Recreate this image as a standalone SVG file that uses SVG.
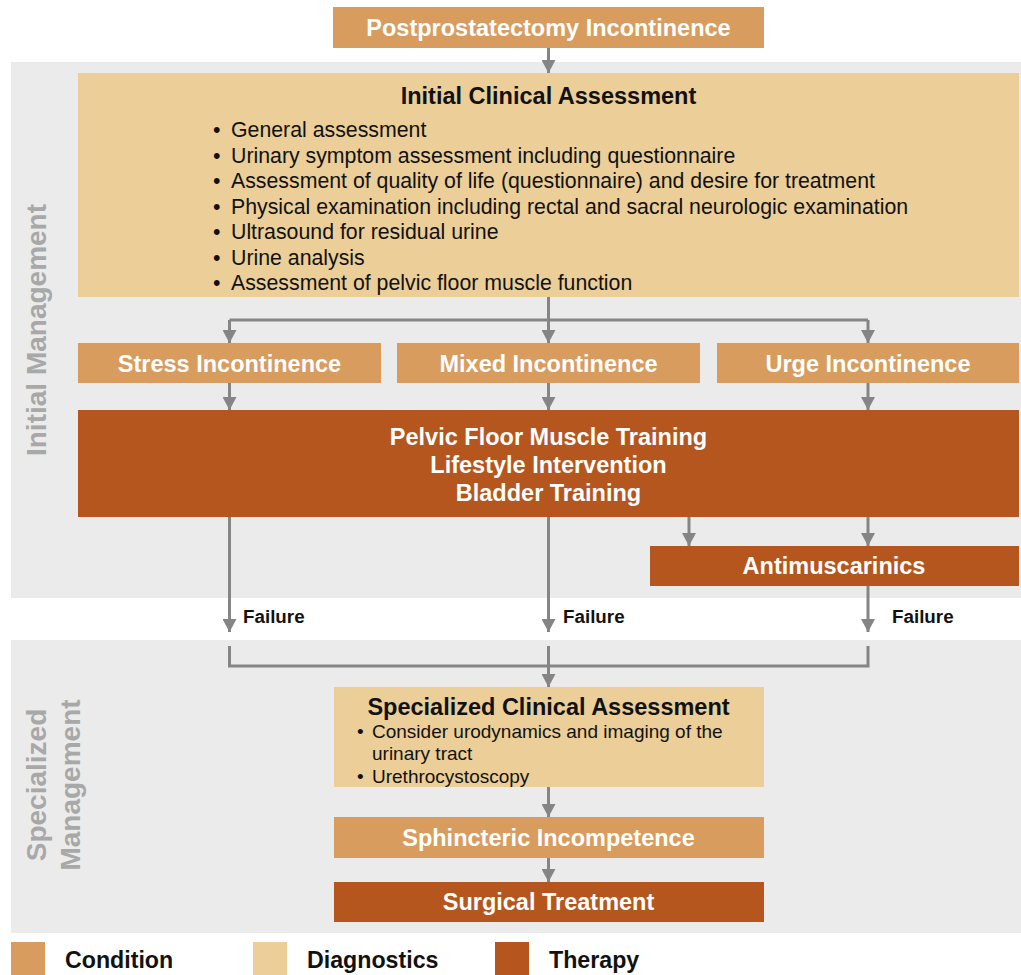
<svg xmlns="http://www.w3.org/2000/svg" width="1021" height="975" viewBox="0 0 1021 975">
<defs>
<marker id="ah" markerUnits="userSpaceOnUse" markerWidth="14" markerHeight="14" refX="13" refY="7" orient="auto">
<path d="M0,0 L13,7 L0,14 Z" fill="#858585"/>
</marker>
<style>
text{font-family:"Liberation Sans",Arial,sans-serif}
.cond{fill:#d89c5e}
.diag{fill:#ecce98}
.ther{fill:#b5561e}
.band{fill:#ebebeb}
.wt{fill:#fff;font-weight:bold;font-size:23.5px;text-anchor:middle}
.bt{fill:#111;font-weight:bold;font-size:23.5px;text-anchor:middle}
.li{fill:#111;font-size:21.3px}
.ls{fill:#111;font-size:19px}
.fl{fill:#111;font-weight:bold;font-size:18.8px}
.lg{fill:#111;font-weight:bold;font-size:23.2px}
.vl{fill:#a8a8a8;font-weight:bold;font-size:28px;text-anchor:middle}
.c{fill:none;stroke:#858585;stroke-width:3}
</style>
</defs>
<g id="bands">
<rect class="band" x="11" y="62" width="1010" height="536"/>
<rect class="band" x="11" y="640" width="1010" height="293"/>
<text class="vl" transform="translate(46,330) rotate(-90)">Initial Management</text>
<text class="vl" transform="translate(46,785) rotate(-90)">Specialized</text>
<text class="vl" transform="translate(80,785) rotate(-90)">Management</text>
</g>
<g id="connectors">
<line class="c" x1="548.5" y1="48" x2="548.5" y2="73" marker-end="url(#ah)"/>
<path class="c" d="M548.5,297 V320 M229.5,320 H868"/>
<line class="c" x1="229.5" y1="320" x2="229.5" y2="343" marker-end="url(#ah)"/>
<line class="c" x1="548.5" y1="320" x2="548.5" y2="343" marker-end="url(#ah)"/>
<line class="c" x1="868" y1="320" x2="868" y2="343" marker-end="url(#ah)"/>
<line class="c" x1="229.5" y1="383" x2="229.5" y2="410" marker-end="url(#ah)"/>
<line class="c" x1="548.5" y1="383" x2="548.5" y2="410" marker-end="url(#ah)"/>
<line class="c" x1="868" y1="383" x2="868" y2="410" marker-end="url(#ah)"/>
<line class="c" x1="689" y1="517" x2="689" y2="546" marker-end="url(#ah)"/>
<line class="c" x1="868" y1="517" x2="868" y2="546" marker-end="url(#ah)"/>
<line class="c" x1="229.5" y1="517" x2="229.5" y2="632" marker-end="url(#ah)"/>
<line class="c" x1="548.5" y1="517" x2="548.5" y2="632" marker-end="url(#ah)"/>
<line class="c" x1="868" y1="586" x2="868" y2="632" marker-end="url(#ah)"/>
<path class="c" d="M229.5,646 V666 H868 V646"/>
<line class="c" x1="548.5" y1="646" x2="548.5" y2="687" marker-end="url(#ah)"/>
<line class="c" x1="548.5" y1="787" x2="548.5" y2="817" marker-end="url(#ah)"/>
<line class="c" x1="548.5" y1="858" x2="548.5" y2="882" marker-end="url(#ah)"/>
<text class="fl" x="243" y="623">Failure</text>
<text class="fl" x="563" y="623">Failure</text>
<text class="fl" x="892" y="623">Failure</text>
</g>
<g id="postprostatectomy">
<rect class="cond" x="333" y="7" width="431" height="41"/>
<text class="wt" x="548.5" y="36">Postprostatectomy Incontinence</text>
</g>
<g id="initial-assessment">
<rect class="diag" x="78" y="73" width="941" height="224"/>
<text class="bt" x="548.5" y="104">Initial Clinical Assessment</text>
<g class="li">
<text x="213" y="137">•</text><text x="231" y="137">General assessment</text>
<text x="213" y="162.5">•</text><text x="231" y="162.5">Urinary symptom assessment including questionnaire</text>
<text x="213" y="188">•</text><text x="231" y="188">Assessment of quality of life (questionnaire) and desire for treatment</text>
<text x="213" y="213.5">•</text><text x="231" y="213.5">Physical examination including rectal and sacral neurologic examination</text>
<text x="213" y="239">•</text><text x="231" y="239">Ultrasound for residual urine</text>
<text x="213" y="264.5">•</text><text x="231" y="264.5">Urine analysis</text>
<text x="213" y="290">•</text><text x="231" y="290">Assessment of pelvic floor muscle function</text>
</g>
</g>
<g id="stress">
<rect class="cond" x="78" y="343" width="303" height="40"/>
<text class="wt" x="229.5" y="372">Stress Incontinence</text>
</g>
<g id="mixed">
<rect class="cond" x="397" y="343" width="303" height="40"/>
<text class="wt" x="548.5" y="372">Mixed Incontinence</text>
</g>
<g id="urge">
<rect class="cond" x="717" y="343" width="302" height="40"/>
<text class="wt" x="868" y="372">Urge Incontinence</text>
</g>
<g id="pelvic-floor">
<rect class="ther" x="78" y="410" width="941" height="107"/>
<text class="wt" x="548.5" y="445">Pelvic Floor Muscle Training</text>
<text class="wt" x="548.5" y="473">Lifestyle Intervention</text>
<text class="wt" x="548.5" y="501">Bladder Training</text>
</g>
<g id="antimuscarinics">
<rect class="ther" x="650" y="546" width="369" height="40"/>
<text class="wt" x="834" y="574">Antimuscarinics</text>
</g>
<g id="specialized-assessment">
<rect class="diag" x="334" y="687" width="430" height="100"/>
<text class="bt" x="548.5" y="715">Specialized Clinical Assessment</text>
<g class="ls">
<text x="357" y="738">•</text><text x="372" y="738">Consider urodynamics and imaging of the</text>
<text x="372" y="760">urinary tract</text>
<text x="357" y="783">•</text><text x="372" y="783">Urethrocystoscopy</text>
</g>
</g>
<g id="sphincteric">
<rect class="cond" x="334" y="817" width="430" height="41"/>
<text class="wt" x="548.5" y="846">Sphincteric Incompetence</text>
</g>
<g id="surgical">
<rect class="ther" x="334" y="882" width="430" height="40"/>
<text class="wt" x="548.5" y="910">Surgical Treatment</text>
</g>
<g id="legend">
<rect class="cond" x="11" y="942" width="34" height="33"/>
<text class="lg" x="65" y="968">Condition</text>
<rect class="diag" x="253" y="942" width="34" height="33"/>
<text class="lg" x="307" y="968">Diagnostics</text>
<rect class="ther" x="495" y="942" width="34" height="33"/>
<text class="lg" x="549" y="968">Therapy</text>
</g>
</svg>
